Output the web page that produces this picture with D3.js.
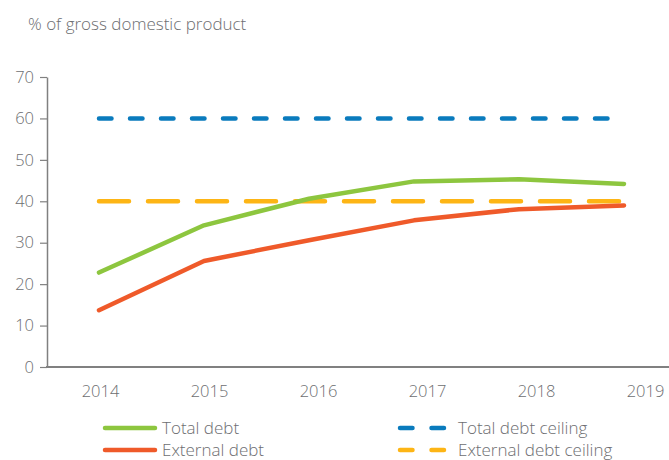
<!DOCTYPE html>
<html>
<head>
<meta charset="utf-8">
<script src="https://cdn.jsdelivr.net/npm/d3@7"></script>
<style>
  body { margin: 0; background: #fff; }
  svg text { font-family: "Open Sans", sans-serif; font-weight: 300; fill: #6d6e71; }
</style>
</head>
<body>
<svg width="669" height="460"></svg>
<script>
// chart data
var years = ["2014", "2015", "2016", "2017", "2018", "2019"];
var totalDebt = [22.8, 34.2, 40.6, 44.8, 45.3, 44.2];
var externalDebt = [13.7, 25.6, 30.6, 35.4, 38.1, 39.0];
var totalCeiling = [60, 60, 60, 60, 60, 60];
var externalCeiling = [40, 40, 40, 40, 40, 40];
var yTicks = [0, 10, 20, 30, 40, 50, 60, 70];

var svg = d3.select("svg");

var x = d3.scalePoint().domain(years).range([99, 624]);
var xLabel = d3.scalePoint().domain(years).range([100, 645]);
var y = d3.scaleLinear().domain([0, 70]).range([367, 77]);

// title
svg.append("text")
    .attr("x", 28)
    .attr("y", 30)
    .style("font-size", "17px")
    .text("% of gross domestic product");

// y axis
var yAxis = svg.append("g")
    .attr("transform", "translate(47,0)")
    .call(d3.axisLeft(y).tickValues(yTicks).tickSize(7).tickPadding(6).tickSizeOuter(0));
yAxis.select(".domain").attr("stroke", "#808080").attr("stroke-width", 1.5);
yAxis.selectAll(".tick line").attr("stroke", "#808080").attr("stroke-width", 1.2);
yAxis.selectAll(".tick text")
    .attr("fill", "#6d6e71")
    .style("font-size", "16.5px")
    .style("font-family", "'Open Sans', sans-serif");

// x axis baseline
svg.append("line")
    .attr("x1", 46).attr("x2", 669)
    .attr("y1", y(0)).attr("y2", y(0))
    .attr("stroke", "#808080")
    .attr("stroke-width", 2);

// x labels
var xAxis = svg.append("g")
    .attr("transform", "translate(0," + y(0) + ")")
    .call(d3.axisBottom(xLabel).tickSize(0).tickPadding(18));
xAxis.select(".domain").remove();
xAxis.selectAll(".tick text")
    .attr("fill", "#6d6e71")
    .style("font-size", "16.5px")
    .style("font-family", "'Open Sans', sans-serif");

var line = d3.line()
    .x(function (d, i) { return x(years[i]); })
    .y(function (d) { return y(d); });

var series = [
    {name: "Total debt ceiling", values: totalCeiling, color: "#0a7bbd", dash: "12.5,18.5"},
    {name: "External debt ceiling", values: externalCeiling, color: "#fdb515", dash: "30,19"},
    {name: "External debt", values: externalDebt, color: "#ef5a2a", dash: null},
    {name: "Total debt", values: totalDebt, color: "#8dc63f", dash: null}
];

svg.append("g").selectAll("path")
    .data(series)
    .enter().append("path")
    .attr("d", function (d) { return line(d.values); })
    .attr("fill", "none")
    .attr("stroke", function (d) { return d.color; })
    .attr("stroke-width", 4.5)
    .attr("stroke-linecap", "round")
    .attr("stroke-linejoin", "round")
    .attr("stroke-dasharray", function (d) { return d.dash; });

// legend
var legend = [
    {name: "Total debt", color: "#8dc63f", dash: null, x: 103, y: 428},
    {name: "External debt", color: "#ef5a2a", dash: null, x: 103, y: 450},
    {name: "Total debt ceiling", color: "#0a7bbd", dash: "12.5,19", x: 398, y: 428},
    {name: "External debt ceiling", color: "#fdb515", dash: "12.5,19", x: 398, y: 450}
];

var lg = svg.append("g").selectAll("g")
    .data(legend)
    .enter().append("g")
    .attr("transform", function (d) { return "translate(" + d.x + "," + d.y + ")"; });

lg.append("line")
    .attr("x1", 2).attr("x2", function (d) { return d.dash ? 48 : 52; })
    .attr("stroke", function (d) { return d.color; })
    .attr("stroke-width", 4.5)
    .attr("stroke-linecap", "round")
    .attr("stroke-dasharray", function (d) { return d.dash; });

lg.append("text")
    .attr("x", function (d) { return d.dash ? 60 : 59; })
    .attr("dy", "0.35em")
    .style("font-size", "17px")
    .text(function (d) { return d.name; });
</script>
</body>
</html>
